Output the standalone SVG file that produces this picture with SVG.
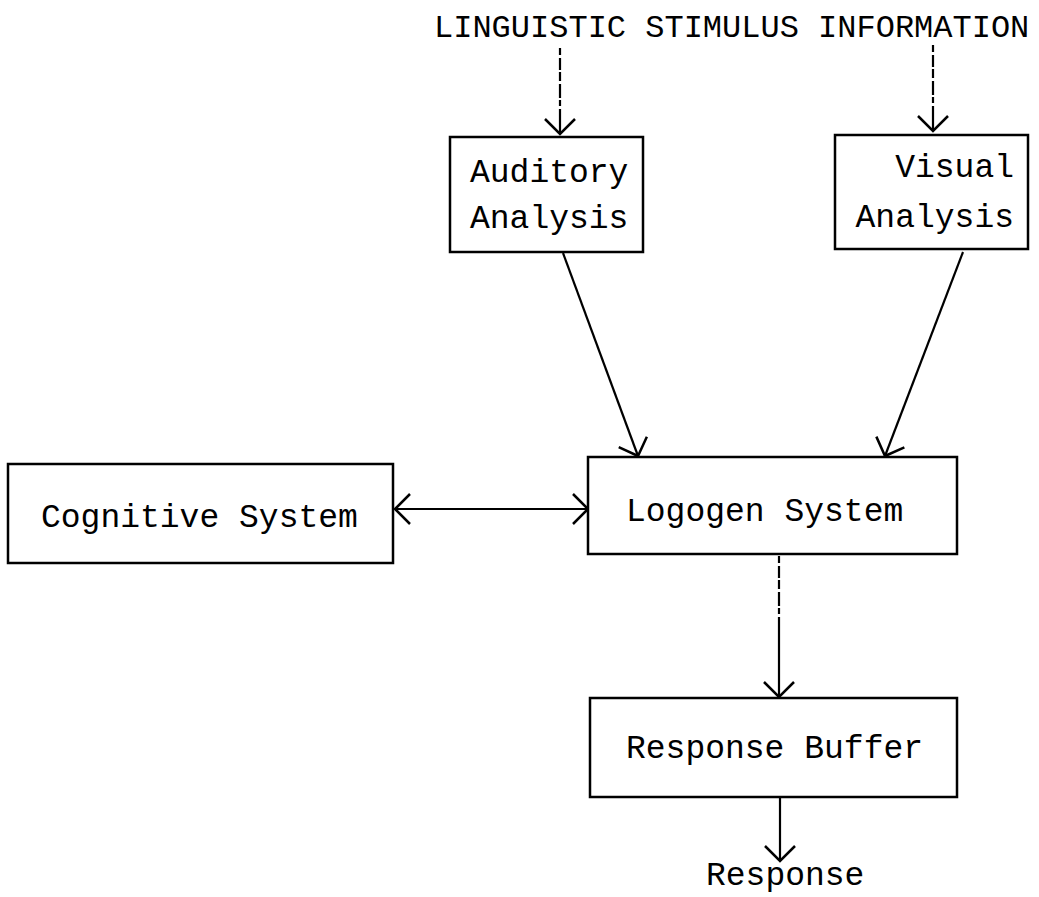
<svg xmlns="http://www.w3.org/2000/svg" width="1039" height="897" viewBox="0 0 1039 897">
  <style>
    .box { fill: #fff; stroke: #000; stroke-width: 2.5; }
    .lbl { font-family: "Liberation Mono", "Courier New", monospace; font-size: 33px; fill: #000; }
    .title { font-family: "Liberation Mono", "Courier New", monospace; font-size: 32px; fill: #000; }
    .conn { fill: none; stroke: #000; stroke-width: 2.2; }
    .broken { stroke-dasharray: 7 3 12 2 9 3 14 2 6 3 400; }
  </style>
  <defs>
    <marker id="ah" viewBox="-20 -20 24 40" refX="0" refY="0" markerWidth="24" markerHeight="40" markerUnits="userSpaceOnUse" orient="auto-start-reverse" overflow="visible">
      <path d="M-15,-15 L0,0 L-15,15" fill="none" stroke="#000" stroke-width="2.5"/>
    </marker>
  </defs>
  <rect width="1039" height="897" fill="#fff"/>

  <text id="title" class="title" x="434" y="37">LINGUISTIC STIMULUS INFORMATION</text>

  <g id="connectors">
    <path class="conn broken" d="M560,48 L560,134" marker-end="url(#ah)"/>
    <path class="conn broken" d="M933,45 L933,131" marker-end="url(#ah)"/>
    <path class="conn" d="M563,253 L638,456" marker-end="url(#ah)"/>
    <path class="conn" d="M963,252 L885,456" marker-end="url(#ah)"/>
    <path class="conn" d="M395,509 L588,509" marker-start="url(#ah)" marker-end="url(#ah)"/>
    <path class="conn broken" d="M779,556 L779,697" marker-end="url(#ah)"/>
    <path class="conn" d="M780,798 L780,861" marker-end="url(#ah)"/>
  </g>

  <g id="auditory">
    <rect class="box" x="450" y="137" width="193" height="115"/>
    <text class="lbl" x="470" y="182">Auditory</text>
    <text class="lbl" x="470" y="228">Analysis</text>
  </g>

  <g id="visual">
    <rect class="box" x="835" y="135" width="193" height="114"/>
    <text class="lbl" x="1014" y="177" text-anchor="end">Visual</text>
    <text class="lbl" x="1014" y="227" text-anchor="end">Analysis</text>
  </g>

  <g id="cognitive">
    <rect class="box" x="8" y="464" width="385" height="99"/>
    <text class="lbl" x="41" y="527">Cognitive System</text>
  </g>

  <g id="logogen">
    <rect class="box" x="588" y="457" width="369" height="97"/>
    <text class="lbl" x="626" y="521">Logogen System</text>
  </g>

  <g id="buffer">
    <rect class="box" x="590" y="698" width="367" height="99"/>
    <text class="lbl" x="626" y="758">Response Buffer</text>
  </g>

  <g id="response">
    <text class="lbl" x="706" y="885">Response</text>
  </g>
</svg>
